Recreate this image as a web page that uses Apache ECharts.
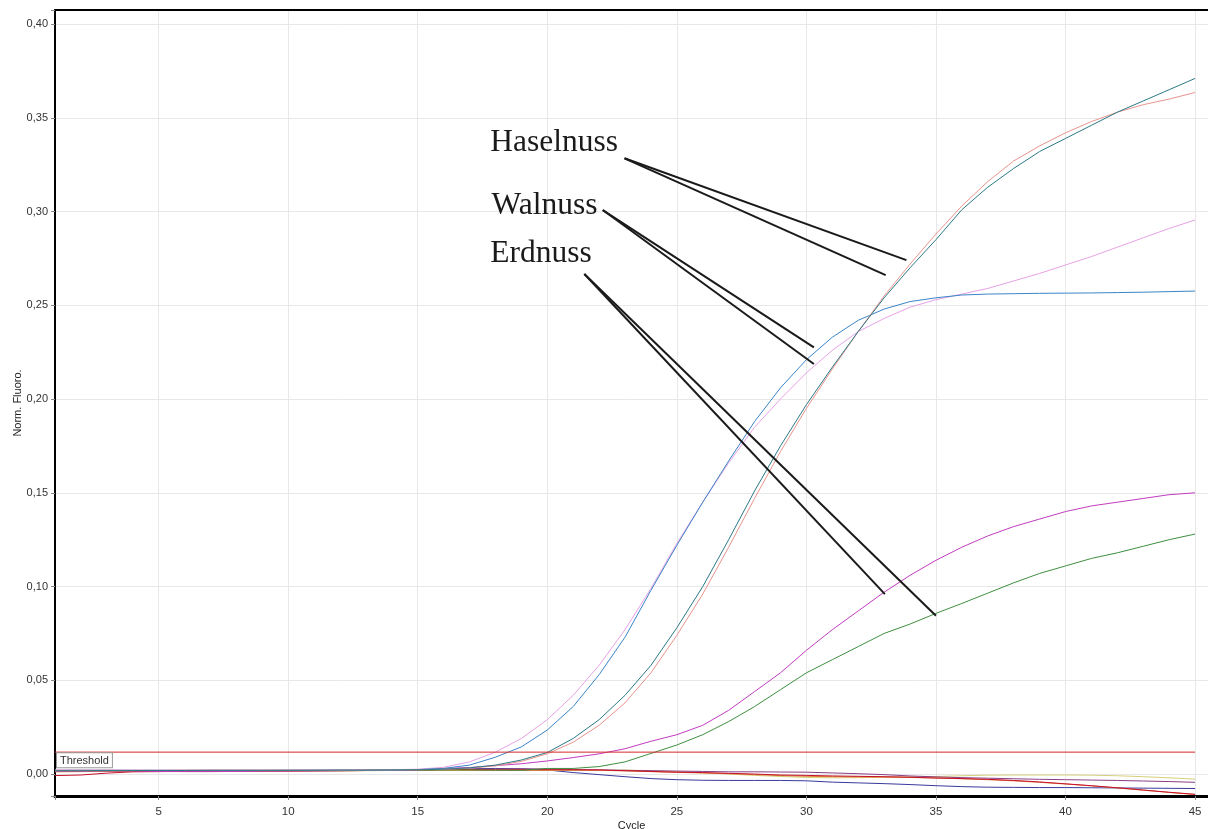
<!DOCTYPE html>
<html><head><meta charset="utf-8">
<script src="https://cdn.jsdelivr.net/npm/echarts@6/dist/echarts.min.js"></script>
<style>html,body{margin:0;padding:0;background:#fff}#c{width:1208px;height:829px}</style>
</head><body><div id="c"></div><script>
// ---- data ----
const cycles = [1,2,3,4,5,6,7,8,9,10,11,12,13,14,15,16,17,18,19,20,21,22,23,24,25,26,27,28,29,30,31,32,33,34,35,36,37,38,39,40,41,42,43,44,45];

const haselnussA = [0.0018,0.0018,0.0019,0.0019,0.0019,0.0019,0.0020,0.0020,0.0020,0.0020,0.0020,0.0021,0.0021,0.0022,
  0.0023,0.0026,0.0033,0.0048,0.0075,0.0115,0.019,0.029,0.042,0.058,0.078,0.100,0.125,0.151,0.175,0.197,
  0.217,0.236,0.254,0.270,0.285,0.301,0.313,0.323,0.332,0.339,0.346,0.353,0.359,0.365,0.371];
const haselnussB = [0.0020,0.0020,0.0020,0.0020,0.0020,0.0021,0.0021,0.0021,0.0021,0.0021,0.0021,0.0021,0.0022,0.0022,
  0.0023,0.0025,0.0031,0.0044,0.0068,0.0108,0.017,0.026,0.038,0.054,0.074,0.096,0.121,0.147,0.172,0.195,
  0.216,0.236,0.255,0.272,0.288,0.303,0.316,0.327,0.335,0.342,0.348,0.353,0.357,0.360,0.3635];
const walnussA = [0.0020,0.0020,0.0020,0.0020,0.0020,0.0020,0.0020,0.0020,0.0020,0.0021,0.0021,0.0021,0.0021,0.0022,
  0.0024,0.0030,0.0048,0.0090,0.0145,0.0235,0.036,0.053,0.073,0.098,0.122,0.145,0.167,0.188,0.206,0.221,
  0.233,0.242,0.248,0.252,0.254,0.2555,0.256,0.2562,0.2564,0.2565,0.2566,0.2568,0.2570,0.2573,0.2576];
const walnussB = [0.0022,0.0022,0.0022,0.0021,0.0021,0.0021,0.0021,0.0021,0.0021,0.0021,0.0021,0.0022,0.0022,0.0023,
  0.0026,0.0036,0.0065,0.0117,0.019,0.029,0.042,0.058,0.077,0.099,0.123,0.145,0.166,0.185,0.200,0.214,
  0.226,0.236,0.243,0.249,0.253,0.256,0.259,0.263,0.267,0.2715,0.276,0.281,0.286,0.291,0.2955];
const erdnussA = [0.0016,0.0016,0.0017,0.0017,0.0014,0.0013,0.0013,0.0014,0.0016,0.0017,0.0018,0.0019,0.0020,0.0021,
  0.0023,0.0030,0.0035,0.0045,0.0055,0.0070,0.0088,0.0108,0.0135,0.0175,0.021,0.026,0.034,0.044,0.054,0.066,
  0.077,0.087,0.097,0.106,0.114,0.121,0.127,0.132,0.136,0.140,0.143,0.145,0.147,0.149,0.150];
const erdnussB = [0.0018,0.0018,0.0018,0.0018,0.0018,0.0018,0.0018,0.0018,0.0018,0.0019,0.0019,0.0019,0.0020,0.0020,
  0.0021,0.0022,0.0022,0.0021,0.0020,0.0030,0.0030,0.0040,0.0065,0.011,0.0155,0.021,0.028,0.036,0.045,0.054,
  0.061,0.068,0.075,0.080,0.0857,0.091,0.0965,0.102,0.107,0.111,0.115,0.118,0.1215,0.125,0.128];
const negNavy = [0.0016,0.0016,0.0016,0.0016,0.0016,0.0016,0.0017,0.0017,0.0017,0.0018,0.0018,0.0018,0.0019,0.0020,
  0.0022,0.0025,0.0028,0.0030,0.0028,0.0022,0.0008,-0.0003,-0.0014,-0.0024,-0.0030,-0.0033,-0.0034,-0.0034,-0.0034,-0.0036,
  -0.0043,-0.0047,-0.0051,-0.0056,-0.0062,-0.0067,-0.0070,-0.0071,-0.0072,-0.0072,-0.0073,-0.0074,-0.0075,-0.0076,-0.0077];
const negRed = [-0.0008,-0.0005,0.0005,0.0012,0.0013,0.0014,0.0015,0.0015,0.0016,0.0016,0.0017,0.0018,0.0019,0.0020,
  0.0022,0.0025,0.0024,0.0023,0.0023,0.0023,0.0023,0.0022,0.0018,0.0014,0.0010,0.0008,0.0004,0.0000,-0.0005,-0.0007,
  -0.0010,-0.0012,-0.0014,-0.0017,-0.0021,-0.0024,-0.0028,-0.0034,-0.0042,-0.0052,-0.0062,-0.0073,-0.0085,-0.0097,-0.0108];
const negOrange = [0.0012,0.0013,0.0014,0.0015,0.0015,0.0016,0.0016,0.0016,0.0017,0.0017,0.0018,0.0018,0.0019,0.0019,
  0.0020,0.0021,0.0021,0.0021,0.0021,0.0021,0.0021,0.0020,0.0017,0.0013,0.0009,0.0006,0.0002,-0.0003,-0.0008,-0.0012,
  -0.0014,-0.0015,-0.0016,-0.0018,-0.0021,-0.0025,-0.0030,-0.0036,-0.0044,-0.0053,-0.0063,-0.0074,-0.0086,-0.0098,-0.0109];
const negKhaki = [0.0016,0.0016,0.0017,0.0017,0.0017,0.0017,0.0018,0.0018,0.0018,0.0018,0.0018,0.0018,0.0018,0.0019,
  0.0019,0.0019,0.0019,0.0019,0.0019,0.0019,0.0020,0.0021,0.0021,0.0018,0.0012,0.0006,0.0000,-0.0007,-0.0013,-0.0018,
  -0.0020,-0.0019,-0.0017,-0.0015,-0.0013,-0.0009,-0.0006,-0.0005,-0.0005,-0.0005,-0.0006,-0.0009,-0.0014,-0.0020,-0.0027];
const negPlum = [0.0017,0.0017,0.0018,0.0018,0.0018,0.0018,0.0019,0.0019,0.0019,0.0019,0.0020,0.0020,0.0020,0.0021,
  0.0022,0.0024,0.0026,0.0027,0.0028,0.0027,0.0024,0.0022,0.0020,0.0018,0.0016,0.0014,0.0012,0.0012,0.0011,0.0010,
  0.0006,0.0002,-0.0003,-0.0010,-0.0015,-0.0019,-0.0022,-0.0025,-0.0028,-0.0030,-0.0032,-0.0034,-0.0037,-0.0040,-0.0044];

const thresholdValue = 0.0117;
const thresholdSpan = [1, 45];
const yTickStep = 0.05;
const xTickStep = 5;

// annotation texts and leader lines (data coordinates: cycle, fluorescence)
const annotationNames = ['Haselnuss', 'Walnuss', 'Erdnuss'];
const annotationX = [17.8, 17.85, 17.8];
const annotationY = [0.3366, 0.3032, 0.2773];
const leaderFrom = [[22.98, 0.3284], [22.98, 0.3284], [22.14, 0.3008], [22.14, 0.3008], [21.43, 0.2667], [21.43, 0.2667]];
const leaderTo   = [[33.86, 0.2741], [33.06, 0.2661], [30.29, 0.2276], [30.29, 0.2187], [33.03, 0.0960], [35.00, 0.0844]];

// ---- chart ----
const sansFont = 'Liberation Sans, Arial, sans-serif';
function pairs(vals) { return cycles.map((c, i) => [c, vals[i]]); }
function curve(name, vals, color) {
  return { name, type: 'line', data: pairs(vals), showSymbol: false, symbol: 'none', smooth: false,
    lineStyle: { color, width: 1 }, itemStyle: { color }, animation: false, z: 3 };
}

const chart = echarts.init(document.getElementById('c'), null, { renderer: 'canvas' });
const series = [
  curve('neg navy', negNavy, '#3a3a9e'),
  curve('neg khaki', negKhaki, '#d6d07a'),
  curve('neg plum', negPlum, '#8a3f86'),
  curve('neg orange', negOrange, '#e07f3a'),
  curve('neg red', negRed, '#c4102c'),
  curve('Erdnuss B', erdnussB, '#3f8f3f'),
  curve('Erdnuss A', erdnussA, '#c23cc0'),
  curve('Walnuss B', walnussB, '#e6a2e6'),
  curve('Walnuss A', walnussA, '#3b85c7'),
  curve('Haselnuss B', haselnussB, '#e8948e'),
  curve('Haselnuss A', haselnussA, '#2b7a86'),
];
series.push({
  name: 'threshold', type: 'line', silent: true, animation: false, z: 4,
  showSymbol: true, symbol: 'circle', symbolSize: 0,
  lineStyle: { color: '#d42a2a', width: 1 }, itemStyle: { color: '#d42a2a' },
  data: [
    { value: [thresholdSpan[0], thresholdValue],
      label: { show: true, position: [2, 1], formatter: 'Threshold',
        fontFamily: sansFont, fontSize: 11, color: '#333', backgroundColor: '#fff',
        borderColor: '#9a9a9a', borderWidth: 1, padding: [2, 3, 1, 3] } },
    { value: [thresholdSpan[1], thresholdValue], label: { show: false } }
  ]
});
series.push({
  name: 'leaders', type: 'lines', coordinateSystem: 'cartesian2d', silent: true, animation: false, z: 10,
  lineStyle: { color: '#1a1a1a', width: 2, opacity: 1 },
  data: leaderFrom.map((p, i) => ({ coords: [p, leaderTo[i]] }))
});
series.push({
  name: 'annotations', type: 'scatter', symbolSize: 0, silent: true, animation: false, z: 10,
  itemStyle: { color: '#111' },
  data: annotationNames.map((n, i) => ({ name: n, value: [annotationX[i], annotationY[i]] })),
  label: { show: true, position: 'right', distance: 0, formatter: p => p.name,
    fontFamily: 'Liberation Serif, Times New Roman, serif', fontSize: 31.5, color: '#1a1a1a', opacity: 1 }
});

const xMin = 1, xMax = 45.5, yMin = -0.0117, yMax = 0.4075;
function isStep(v, step) { const r = v / step; return Math.abs(r - Math.round(r)) < 1e-6; }

chart.setOption({
  backgroundColor: '#fff',
  animation: false,
  grid: { left: 55, right: 0, top: 10, bottom: 33, outerBoundsMode: 'none' },
  xAxis: [{
    type: 'value', min: xMin, max: xMax, splitNumber: 9,
    name: 'Cycle', nameLocation: 'middle', nameGap: 24, nameMoveOverlap: false,
    nameTextStyle: { fontFamily: sansFont, fontSize: 11, color: '#222' },
    axisLine: { show: true, onZero: false, lineStyle: { color: '#000', width: 3 } },
    axisTick: { show: true, length: 4, lineStyle: { color: '#888' } },
    axisLabel: { margin: 10, fontFamily: sansFont, fontSize: 11.5, color: '#333',
      formatter: v => isStep(v, xTickStep) ? String(Math.round(v)) : '' },
    splitLine: { show: true, lineStyle: { color: '#e8e8e8', width: 1 } }
  }, {
    type: 'value', position: 'top', min: xMin, max: xMax,
    axisLine: { show: true, onZero: false, lineStyle: { color: '#000', width: 2 } },
    axisTick: { show: false }, axisLabel: { show: false }, splitLine: { show: false }
  }],
  yAxis: {
    type: 'value', min: yMin, max: yMax, splitNumber: 8,
    name: 'Norm. Fluoro.', nameLocation: 'middle', nameGap: 32, nameMoveOverlap: false,
    nameTextStyle: { fontFamily: sansFont, fontSize: 11, color: '#222' },
    axisLine: { show: true, onZero: false, lineStyle: { color: '#000', width: 2 } },
    axisTick: { show: true, length: 4, lineStyle: { color: '#888' } },
    axisLabel: { margin: 7, fontFamily: sansFont, fontSize: 11, color: '#333',
      formatter: v => isStep(v, yTickStep) ? (Math.round(v * 100) / 100).toFixed(2).replace('.', ',') : '' },
    splitLine: { show: true, lineStyle: { color: '#e8e8e8', width: 1 } }
  },
  series
});
</script></body></html>
